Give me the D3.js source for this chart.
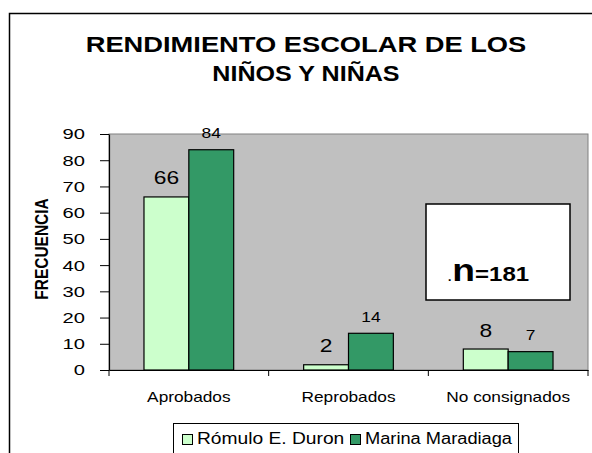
<!DOCTYPE html>
<html>
<head>
<meta charset="utf-8">
<script src="https://cdn.jsdelivr.net/npm/d3@7"></script>
<style>
  body { margin: 0; background: #fff; }
  svg { display: block; font-family: Arial, "Liberation Sans", sans-serif; }
</style>
</head>
<body>
<div class="chart"></div>
<script>
var categories = ['Aprobados', 'Reprobados', 'No consignados'];
var seriesNames = ['Rómulo E. Duron', 'Marina Maradiaga'];
var romulo = [66, 2, 8];
var marina = [84, 14, 7];
var yTicks = [0, 10, 20, 30, 40, 50, 60, 70, 80, 90];
var colours = ['#ccffcc', '#339966'];
var titleLines = ['RENDIMIENTO ESCOLAR DE LOS', 'NIÑOS Y NIÑAS'];

var width = 592, height = 453;
var margin = { left: 109, right: 4, top: 134, bottom: 83 };
var FONT = 'Arial, "Liberation Sans", sans-serif';

// the original chart is stretched sideways, so widen the glyphs a bit
function stretch(sel, f) {
    sel.each(function () {
        var len = this.getComputedTextLength();
        d3.select(this)
            .attr('textLength', len * f)
            .attr('lengthAdjust', 'spacingAndGlyphs');
    });
}

var svg = d3.select('.chart')
    .append('svg')
    .attr('width', width)
    .attr('height', height);

// outer chart border
svg.append('rect')
    .attr('x', 9.5).attr('y', 13.5)
    .attr('width', 600).attr('height', 460)
    .attr('fill', 'none').attr('stroke', '#000').attr('stroke-width', 1.5);

// title
var titleStretch = [1.24, 1.14];
svg.append('g')
    .attr('text-anchor', 'middle')
    .attr('font-weight', 'bold')
    .attr('font-size', 22)
    .selectAll('text')
    .data(titleLines)
    .enter()
    .append('text')
    .attr('x', 306)
    .attr('y', (d, i) => 52 + i * 29)
    .text(d => d)
    .each(function (d, i) { stretch(d3.select(this), titleStretch[i]); });

var x = d3.scaleBand()
    .domain(categories)
    .range([margin.left, width - margin.right]);

var y = d3.scaleLinear()
    .domain([0, 90])
    .range([height - margin.bottom, margin.top]);

// plot area
svg.append('rect')
    .attr('x', margin.left).attr('y', margin.top)
    .attr('width', width - margin.right - margin.left)
    .attr('height', y(0) - margin.top)
    .attr('fill', '#c0c0c0')
    .attr('stroke', '#808080');

var xSub = d3.scaleBand()
    .domain([0, 1])
    .range([0, x.bandwidth()])
    .paddingInner(0)
    .paddingOuter(0.78);

var series = [romulo, marina];
var g = svg.append('g');

series.forEach(function (vals, s) {
    g.selectAll('.bar' + s)
        .data(vals)
        .enter()
        .append('rect')
        .attr('x', (d, i) => x(categories[i]) + xSub(s))
        .attr('y', d => y(d))
        .attr('width', xSub.bandwidth())
        .attr('height', d => y(0) - y(d))
        .attr('fill', colours[s])
        .attr('stroke', '#000')
        .attr('stroke-width', 1.2);
});

// value labels: first series bigger than the second
var labelSize = [19, 14.5];
series.forEach(function (vals, s) {
    var labs = g.selectAll('.lab' + s)
        .data(vals)
        .enter()
        .append('text')
        .attr('text-anchor', 'middle')
        .attr('font-size', labelSize[s])
        .attr('x', (d, i) => x(categories[i]) + xSub(s) + xSub.bandwidth() / 2)
        .attr('y', d => y(d) - (s == 0 ? 12.5 : 11.5))
        .text(d => d);
    stretch(labs, 1.2);
});

// y axis
var yAxis = svg.append('g')
    .attr('transform', 'translate(' + margin.left + ',0)')
    .call(d3.axisLeft(y).tickValues(yTicks).tickSize(9).tickSizeOuter(0).tickPadding(15));
yAxis.select('.domain').attr('stroke', '#000').attr('stroke-width', 1.2);
yAxis.selectAll('line').attr('stroke', '#000');
yAxis.selectAll('text').attr('font-size', 15.5).attr('fill', '#000').attr('font-family', FONT);
stretch(yAxis.selectAll('text'), 1.3);

// x axis
var xAxis = svg.append('g')
    .attr('transform', 'translate(0,' + y(0) + ')')
    .call(d3.axisBottom(x).tickSize(0));
xAxis.select('.domain').attr('stroke', '#000').attr('stroke-width', 1.2);
xAxis.selectAll('text')
    .attr('y', 31.5).attr('dy', 0)
    .attr('font-size', 14.5).attr('fill', '#000').attr('font-family', FONT);
stretch(xAxis.selectAll('text'), 1.19);
// category separator ticks
svg.append('g').selectAll('line')
    .data(categories.concat(['end']))
    .enter()
    .append('line')
    .attr('x1', (d, i) => margin.left + i * x.bandwidth())
    .attr('x2', (d, i) => margin.left + i * x.bandwidth())
    .attr('y1', y(0)).attr('y2', y(0) + 6)
    .attr('stroke', '#000');

// y axis title
svg.append('text')
    .attr('transform', 'translate(48,249) scale(1.2,1) rotate(-90)')
    .attr('text-anchor', 'middle')
    .attr('font-weight', 'bold')
    .attr('font-size', 15.5)
    .text('FRECUENCIA');

// n box
svg.append('rect')
    .attr('x', 426).attr('y', 204)
    .attr('width', 144).attr('height', 96)
    .attr('fill', '#fff').attr('stroke', '#000').attr('stroke-width', 1.5);
var nText = svg.append('text')
    .attr('x', 447).attr('y', 281)
    .attr('font-weight', 'bold');
nText.append('tspan').attr('font-size', 16).attr('font-weight', 'normal').text('.');
nText.append('tspan').attr('font-size', 31).text('n');
nText.append('tspan').attr('font-size', 20).text('=181');
stretch(nText, 1.2);

// legend
var legend = svg.append('g');
legend.append('rect')
    .attr('x', 173.5).attr('y', 423.5)
    .attr('width', 345).attr('height', 34)
    .attr('fill', '#fff').attr('stroke', '#000');
var legX = [182, 350];
var legStretch = [1.2, 1.14];
seriesNames.forEach(function (name, i) {
    legend.append('rect')
        .attr('x', legX[i] + 0.5).attr('y', 434.5)
        .attr('width', 10).attr('height', 10)
        .attr('fill', colours[i]).attr('stroke', '#000');
    var t = legend.append('text')
        .attr('x', legX[i] + 15).attr('y', 444)
        .attr('font-size', 16)
        .text(name);
    stretch(t, legStretch[i]);
});
</script>
</body>
</html>
